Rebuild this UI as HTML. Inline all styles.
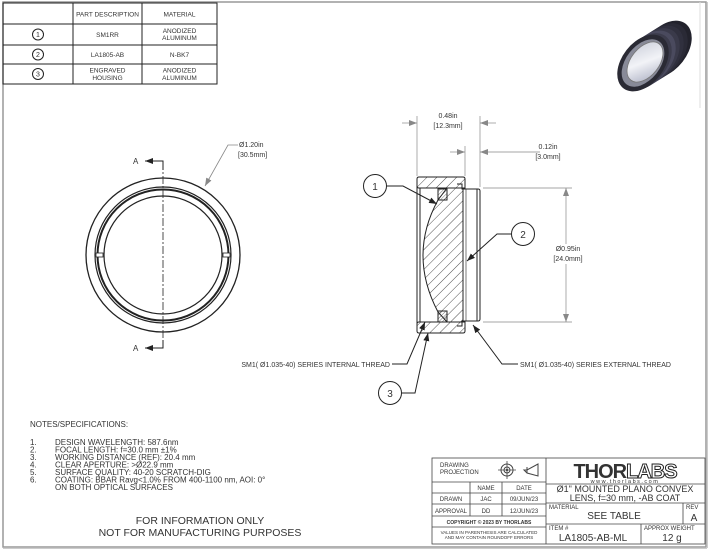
<!DOCTYPE html>
<html><head><meta charset="utf-8"><style>
html,body{margin:0;padding:0;background:#fff;width:710px;height:551px;overflow:hidden}
svg{display:block}
text{font-family:"Liberation Sans",sans-serif;fill:#333}
</style></head><body>
<svg width="710" height="551" viewBox="0 0 710 551" xmlns="http://www.w3.org/2000/svg">
<defs>
<pattern id="h" width="7" height="7" patternUnits="userSpaceOnUse" patternTransform="rotate(45)"><line x1="0" y1="0" x2="0" y2="7" stroke="#222" stroke-width="0.8"/></pattern>
<pattern id="h2" width="2.5" height="2.5" patternUnits="userSpaceOnUse" patternTransform="rotate(45)"><line x1="0" y1="0" x2="0" y2="2.5" stroke="#222" stroke-width="0.6"/></pattern>
<marker id="a" markerWidth="8" markerHeight="6" refX="8" refY="3" orient="auto" markerUnits="userSpaceOnUse"><path d="M0,0 L8,3 L0,6z" fill="#222"/></marker>
<marker id="g" markerWidth="8" markerHeight="6" refX="8" refY="3" orient="auto" markerUnits="userSpaceOnUse"><path d="M0,0 L8,3 L0,6z" fill="#888"/></marker>
<linearGradient id="lg" x1="0" y1="0" x2="1" y2="1"><stop offset="0" stop-color="#c8ccd8"/><stop offset="0.5" stop-color="#f2f3f7"/><stop offset="1" stop-color="#a8acc0"/></linearGradient>
</defs>
<rect x="3" y="2" width="703" height="545" fill="none" stroke="#999" stroke-width="1.5"/>
<line x1="3" y1="548.5" x2="707" y2="548.5" stroke="#ccc"/>
<line x1="707.5" y1="2" x2="707.5" y2="548" stroke="#ccc"/>
<line x1="700" y1="2" x2="700" y2="108" stroke="#ddd"/>

<g stroke="#222" stroke-width="1" fill="none">
<rect x="3" y="3" width="214" height="81"/>
<line x1="73" y1="3" x2="73" y2="84"/><line x1="142" y1="3" x2="142" y2="84"/>
<line x1="3" y1="24" x2="217" y2="24"/><line x1="3" y1="45" x2="217" y2="45"/><line x1="3" y1="64" x2="217" y2="64"/>
<circle cx="38" cy="34.5" r="5.5"/><circle cx="38" cy="54.5" r="5.5"/><circle cx="38" cy="74" r="5.5"/>
</g>
<g font-size="6.5" text-anchor="middle">
<text x="107.5" y="16.5">PART DESCRIPTION</text><text x="179.5" y="16.5">MATERIAL</text>
<text x="38" y="37" font-size="7">1</text><text x="38" y="57" font-size="7">2</text><text x="38" y="76.5" font-size="7">3</text>
<text x="107.5" y="37">SM1RR</text><text x="179.5" y="33">ANODIZED</text><text x="179.5" y="40">ALUMINUM</text>
<text x="107.5" y="57">LA1805-AB</text><text x="179.5" y="57">N-BK7</text>
<text x="107.5" y="72.5">ENGRAVED</text><text x="107.5" y="80">HOUSING</text><text x="179.5" y="72.5">ANODIZED</text><text x="179.5" y="80">ALUMINUM</text>
</g>

<g>
<ellipse cx="666" cy="49" rx="21" ry="32" transform="rotate(38 666 49)" fill="#22222c"/>
<ellipse cx="662" cy="51.5" rx="21" ry="32" transform="rotate(38 662 51.5)" fill="#2a2a36"/>
<ellipse cx="658" cy="54" rx="21" ry="32" transform="rotate(38 658 54)" fill="#30303e"/>
<ellipse cx="654" cy="56.5" rx="21" ry="32" transform="rotate(38 654 56.5)" fill="#3a3a4a"/>
<ellipse cx="650" cy="59" rx="21" ry="32" transform="rotate(38 650 59)" fill="#4a4a5e"/>
<ellipse cx="646" cy="61.5" rx="21" ry="32" transform="rotate(38 646 61.5)" fill="#3c3c4c"/>
<ellipse cx="643" cy="63" rx="21" ry="32" transform="rotate(38 643 63)" fill="#2a2a34"/>
<ellipse cx="643" cy="63" rx="17" ry="27" transform="rotate(38 643 63)" fill="#888a98"/>
<ellipse cx="645" cy="62" rx="14" ry="23" transform="rotate(38 645 62)" fill="url(#lg)" stroke="#777" stroke-width="0.8"/>
</g>

<g stroke="#222" fill="none">
<circle cx="163" cy="255" r="77" stroke-width="1.3"/>
<circle cx="163" cy="255" r="68" stroke-width="1.2"/>
<circle cx="163" cy="255" r="65.5" stroke-width="2"/>
<circle cx="163" cy="255" r="59" stroke-width="1.2"/>
<rect x="96" y="253" width="7" height="4" fill="#fff" stroke-width="0.8"/>
<rect x="223" y="253" width="7" height="4" fill="#fff" stroke-width="0.8"/>
<line x1="163" y1="162" x2="163" y2="348" stroke-width="0.8" stroke-dasharray="8,2,2,2"/>
<polyline points="163,170 163,161 145,161" stroke-width="1" marker-end="url(#a)"/>
<polyline points="163,340 163,348 145,348" stroke-width="1" marker-end="url(#a)"/>
</g>
<text x="133" y="164" font-size="8">A</text><text x="133" y="351" font-size="8">A</text>
<polyline points="238,145 228,145 205,186" fill="none" stroke="#888" stroke-width="0.8" marker-end="url(#g)"/>
<text x="239" y="147" font-size="7" fill="#777">Ø1.20in</text>
<text x="238" y="157" font-size="7" fill="#777">[30.5mm]</text>

<g stroke="#222" stroke-width="1">
<path d="M419,177 H463 Q465,177 465,179 V188 H419 Q417,188 417,186 V179 Q417,177 419,177Z" fill="url(#h)"/>
<path d="M419,333 H463 Q465,333 465,331 V322 H419 Q417,322 417,324 V331 Q417,333 419,333Z" fill="url(#h)"/>
<line x1="417" y1="186" x2="417" y2="324"/>
<line x1="420" y1="188" x2="420" y2="322"/>
<path d="M447,188 H463 V322 H447 L438,312 Q408,255 438,200Z" fill="url(#h)"/>
<rect x="438" y="189" width="9" height="11" fill="url(#h2)"/>
<rect x="438" y="311" width="9" height="11" fill="url(#h2)"/>
<path d="M457,184 H462 V189 H478 Q480,189 480,191 V319 Q480,321 478,321 H462 V326 H457" fill="none"/>
<line x1="477" y1="189" x2="477" y2="321"/>
<line x1="466" y1="189" x2="466" y2="321" stroke-width="0.6"/>
</g>
<g stroke="#888" stroke-width="0.7" fill="none">
<line x1="417" y1="116" x2="417" y2="176"/><line x1="480" y1="116" x2="480" y2="187"/>
<line x1="402" y1="123" x2="417" y2="123" marker-end="url(#g)"/><line x1="496" y1="123" x2="480" y2="123" marker-end="url(#g)"/>
<line x1="465" y1="146" x2="465" y2="176"/>
<line x1="450" y1="152" x2="465" y2="152" marker-end="url(#g)"/><line x1="540" y1="152" x2="480" y2="152" marker-end="url(#g)"/>
<line x1="483" y1="188" x2="572" y2="188"/><line x1="483" y1="322" x2="572" y2="322"/>
<line x1="566" y1="244" x2="566" y2="188" marker-end="url(#g)"/><line x1="566" y1="264" x2="566" y2="322" marker-end="url(#g)"/>
</g>
<g font-size="7" fill="#777" text-anchor="middle">
<text x="448" y="118" fill="#777">0.48in</text><text x="448" y="128" fill="#777">[12.3mm]</text>
<text x="548" y="149" fill="#777">0.12in</text><text x="548" y="159" fill="#777">[3.0mm]</text>
<text x="568" y="251" fill="#777">Ø0.95in</text><text x="568" y="261" fill="#777">[24.0mm]</text>
</g>
<g stroke="#222" stroke-width="1" fill="none">
<circle cx="375" cy="186" r="11.5"/><polyline points="387,186 403,186 437,204" marker-end="url(#a)"/>
<circle cx="523" cy="234" r="11.5"/><polyline points="511,234 497,234 467,261" marker-end="url(#a)"/>
<circle cx="390" cy="393" r="11.5"/><polyline points="402,393 415,393 428,333" marker-end="url(#a)"/>
<polyline points="392,364 407,364 425,322" marker-end="url(#a)"/>
<polyline points="518,364 502,364 473,325" marker-end="url(#a)"/>
</g>
<g font-size="10" text-anchor="middle"><text x="375" y="190">1</text><text x="523" y="238">2</text><text x="390" y="397">3</text></g>
<text x="390" y="367" font-size="7" text-anchor="end">SM1( Ø1.035-40) SERIES INTERNAL THREAD</text>
<text x="520" y="367" font-size="7">SM1( Ø1.035-40) SERIES EXTERNAL THREAD</text>

<g font-size="8">
<text x="30" y="427">NOTES/SPECIFICATIONS:</text>
<text x="30" y="445">1.</text><text x="55" y="445">DESIGN WAVELENGTH: 587.6nm</text>
<text x="30" y="452.5">2.</text><text x="55" y="452.5">FOCAL LENGTH: f=30.0 mm ±1%</text>
<text x="30" y="460">3.</text><text x="55" y="460">WORKING DISTANCE (REF): 20.4 mm</text>
<text x="30" y="467.5">4.</text><text x="55" y="467.5">CLEAR APERTURE: &gt;Ø22.9 mm</text>
<text x="30" y="475">5.</text><text x="55" y="475">SURFACE QUALITY: 40-20 SCRATCH-DIG</text>
<text x="30" y="482.5">6.</text><text x="55" y="482.5">COATING: BBAR Ravg&lt;1.0% FROM 400-1100 nm, AOI: 0°</text>
<text x="55" y="490">ON BOTH OPTICAL SURFACES</text>
</g>
<g font-size="10.5" text-anchor="middle"><text x="200" y="524">FOR INFORMATION ONLY</text><text x="200" y="536">NOT FOR MANUFACTURING PURPOSES</text></g>

<g stroke="#444" stroke-width="0.8" fill="none">
<rect x="432" y="458" width="273" height="86"/>
<line x1="546" y1="458" x2="546" y2="544"/>
<line x1="432" y1="482" x2="546" y2="482"/><line x1="432" y1="493" x2="546" y2="493"/><line x1="432" y1="504" x2="546" y2="504"/><line x1="432" y1="516" x2="546" y2="516"/><line x1="432" y1="527" x2="546" y2="527"/>
<line x1="470" y1="482" x2="470" y2="516"/><line x1="502" y1="482" x2="502" y2="516"/>
<line x1="546" y1="484" x2="705" y2="484"/><line x1="546" y1="503" x2="705" y2="503"/><line x1="546" y1="524" x2="705" y2="524"/>
<line x1="683" y1="503" x2="683" y2="524"/><line x1="641" y1="524" x2="641" y2="544"/>
<circle cx="507" cy="470" r="6" stroke-width="1"/><circle cx="507" cy="470" r="3" stroke-width="1"/>
<line x1="498" y1="470" x2="516" y2="470"/><line x1="507" y1="461" x2="507" y2="479"/>
<path d="M524,470 H527 L538,464 V476 L527,473 Z M527,467 V473" stroke-width="1"/>
</g>
<circle cx="507" cy="470" r="1" fill="#222"/>
<g font-size="6" fill="#333">
<text x="440" y="467">DRAWING</text><text x="440" y="474">PROJECTION</text>
<text x="486" y="490" text-anchor="middle">NAME</text><text x="524" y="490" text-anchor="middle">DATE</text>
<text x="451" y="501" text-anchor="middle">DRAWN</text><text x="486" y="501" text-anchor="middle">JAC</text><text x="524" y="501" text-anchor="middle">09/JUN/23</text>
<text x="451" y="513" text-anchor="middle">APPROVAL</text><text x="486" y="513" text-anchor="middle">DD</text><text x="524" y="513" text-anchor="middle">12/JUN/23</text>
<text x="489" y="524" text-anchor="middle" font-size="5" font-weight="bold">COPYRIGHT © 2023 BY THORLABS</text>
<text x="489" y="534" text-anchor="middle" font-size="4.5">VALUES IN PARENTHESIS ARE CALCULATED</text>
<text x="489" y="539" text-anchor="middle" font-size="4.5">AND MAY CONTAIN ROUNDOFF ERRORS</text>
<text x="549" y="509" font-size="6">MATERIAL</text><text x="686" y="509" font-size="6">REV</text>
<text x="549" y="530" font-size="6">ITEM #</text><text x="644" y="530" font-size="6">APPROX WEIGHT</text>
</g>
<text x="625" y="478" font-size="20" font-weight="bold" text-anchor="middle" fill="#222" letter-spacing="-1">THOR<tspan fill="#fff" stroke="#222" stroke-width="1">LABS</tspan></text>
<text x="625" y="483" font-size="5.5" text-anchor="middle" letter-spacing="1.5">www.thorlabs.com</text>
<text x="625" y="492" font-size="9" text-anchor="middle">Ø1" MOUNTED PLANO CONVEX</text>
<text x="625" y="501" font-size="9" text-anchor="middle">LENS, f=30 mm, -AB COAT</text>
<text x="614" y="519" font-size="10" text-anchor="middle">SEE TABLE</text>
<text x="694" y="521" font-size="10" text-anchor="middle">A</text>
<text x="593" y="541" font-size="10" text-anchor="middle">LA1805-AB-ML</text>
<text x="672" y="541" font-size="10" text-anchor="middle">12 g</text>
</svg>
</body></html>
